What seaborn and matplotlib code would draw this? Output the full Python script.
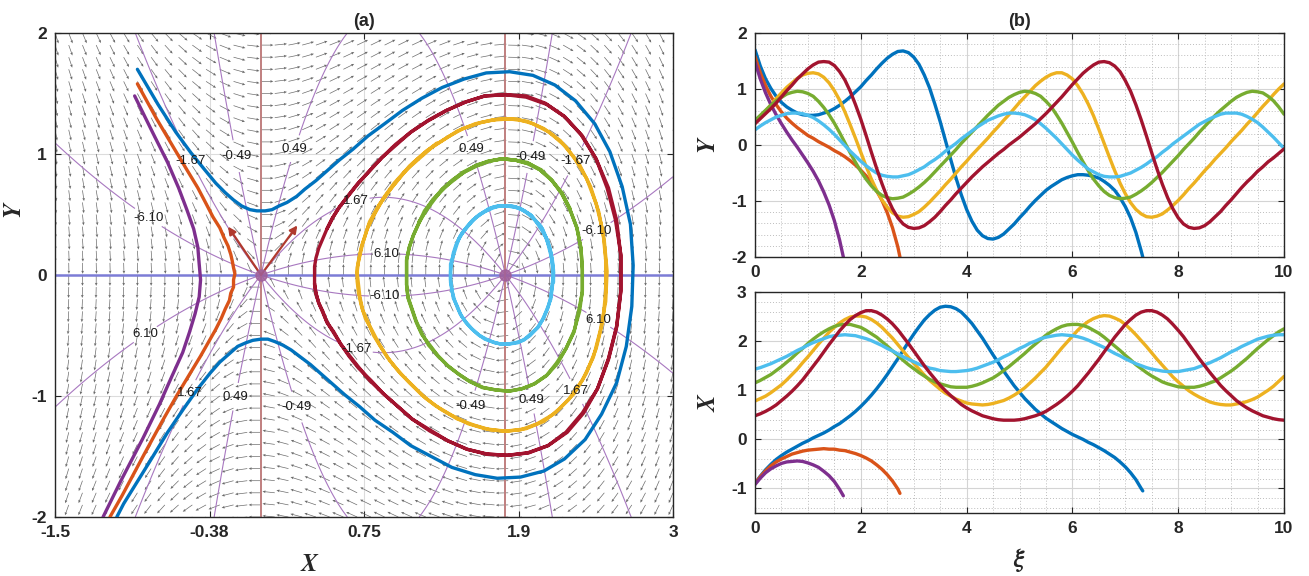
import numpy as np
import matplotlib
matplotlib.use('Agg')
import matplotlib.pyplot as plt
from matplotlib.ticker import MultipleLocator
import seaborn as sns

# ---------------- data (in hundredths) ----------------
XI = np.linspace(0, 10, 101)          # xi grid of panel (b), step 0.1

X_CYAN = [143, 146, 150, 154, 159, 164, 169, 175, 181, 186, 192, 197, 201, 205, 209, 211, 212, 213, 212, 211, 208, 205, 201, 196, 191, 185, 180, 174,
          168, 163, 158, 153, 149, 145, 143, 140, 139, 138, 138, 139, 140, 142, 145, 149, 153, 157, 162, 168, 173, 179, 185, 190, 196, 200, 205, 208,
          210, 212, 213, 212, 211, 209, 206, 202, 197, 192, 187, 181, 175, 170, 164, 159, 154, 150, 146, 143, 141, 139, 138, 138, 138, 140, 142, 144,
          148, 152, 156, 161, 166, 172, 178, 183, 189, 194, 199, 204, 207, 210, 212, 213, 213]
Y_CYAN = [27, 34, 40, 45, 50, 53, 56, 57, 57, 56, 53, 49, 43, 36, 28, 19, 9, -1, -11, -20, -29, -37, -44, -50, -54, -56, -57, -57,
          -55, -53, -49, -44, -39, -32, -26, -19, -11, -4, 3, 11, 18, 25, 32, 38, 44, 48, 52, 55, 57, 57, 56, 54, 50, 45, 38, 30,
          21, 12, 2, -8, -18, -27, -35, -43, -48, -53, -56, -57, -57, -56, -53, -50, -45, -40, -34, -27, -21, -13, -6, 2, 9, 16, 23, 30,
          37, 42, 47, 51, 55, 57, 57, 57, 55, 51, 46, 40, 32, 23, 14, 4, -6]

X_GREEN = [115, 120, 126, 132, 140, 148, 157, 166, 176, 185, 195, 204, 212, 219, 225, 230, 233, 234, 234, 231, 228, 222, 215, 208, 199, 190, 180, 171,
           161, 152, 144, 136, 129, 122, 117, 113, 110, 107, 106, 106, 106, 108, 111, 115, 120, 125, 132, 140, 148, 157, 166, 175, 185, 194, 203, 212,
           219, 225, 230, 233, 234, 234, 232, 228, 222, 216, 208, 199, 190, 181, 171, 162, 152, 144, 136, 129, 123, 117, 113, 110, 107, 106, 106, 106,
           108, 111, 115, 119, 125, 132, 139, 147, 156, 165, 175, 185, 194, 203, 211, 219, 225]
Y_GREEN = [44, 53, 62, 71, 79, 85, 91, 94, 96, 95, 92, 87, 78, 67, 54, 39, 22, 4, -14, -31, -47, -61, -73, -83, -90, -94, -96, -95,
           -93, -88, -82, -75, -67, -58, -48, -38, -28, -18, -8, 3, 13, 23, 33, 43, 53, 62, 71, 78, 85, 90, 94, 96, 95, 92, 87, 78,
           68, 54, 39, 22, 5, -13, -30, -46, -61, -73, -83, -90, -94, -96, -95, -93, -88, -82, -75, -67, -58, -49, -39, -29, -19, -8, 2, 12,
           23, 33, 43, 53, 62, 70, 78, 85, 90, 94, 96, 95, 93, 87, 79, 68, 55]

X_YELLOW = [78, 83, 88, 95, 103, 111, 121, 132, 143, 156, 168, 181, 194, 206, 218, 228, 237, 244, 249, 251, 251, 249, 244, 237, 228, 217, 206, 193,
            180, 167, 155, 143, 131, 120, 111, 102, 94, 88, 82, 78, 74, 72, 71, 70, 71, 73, 76, 79, 84, 90, 97, 105, 115, 125, 136, 147,
            160, 173, 186, 198, 210, 222, 232, 240, 246, 250, 252, 251, 247, 242, 234, 224, 213, 201, 189, 176, 163, 151, 139, 127, 117, 108, 99, 92,
            86, 81, 76, 73, 71, 70, 70, 72, 74, 77, 81, 86, 93, 100, 108, 118, 128]
Y_YELLOW = [40, 51, 61, 72, 83, 93, 103, 111, 119, 125, 128, 129, 127, 121, 111, 97, 80, 59, 36, 12, -13, -38, -61, -81, -98, -111, -121, -127,
            -129, -128, -124, -119, -111, -102, -92, -82, -71, -61, -50, -39, -29, -18, -8, 2, 12, 23, 33, 44, 54, 65, 76, 86, 96, 106, 114, 121,
            126, 129, 129, 125, 118, 106, 91, 73, 52, 28, 3, -22, -46, -68, -87, -103, -115, -123, -128, -129, -127, -123, -116, -108, -99, -89, -78, -68,
            -57, -46, -36, -25, -15, -5, 6, 16, 26, 37, 47, 58, 69, 79, 90, 100, 109]

X_RED = [48, 52, 57, 63, 70, 79, 88, 98, 109, 121, 135, 149, 163, 178, 193, 207, 221, 233, 244, 252, 258, 262, 262, 259, 253, 245, 235, 223,
         209, 195, 180, 165, 150, 136, 123, 110, 99, 89, 80, 71, 64, 58, 53, 48, 45, 42, 40, 39, 39, 39, 40, 42, 45, 48, 52, 57,
         64, 71, 79, 88, 98, 109, 122, 135, 149, 163, 178, 193, 208, 221, 234, 244, 253, 259, 262, 262, 259, 253, 245, 234, 222, 209, 194, 179,
         164, 150, 136, 123, 110, 99, 89, 79, 71, 64, 58, 53, 48, 45, 42, 40, 39]
Y_RED = [38, 47, 56, 65, 75, 86, 97, 107, 118, 127, 136, 143, 148, 149, 148, 142, 131, 116, 96, 72, 46, 17, -13, -42, -69, -94, -114, -130,
         -141, -147, -149, -148, -144, -137, -129, -119, -108, -98, -87, -77, -67, -57, -48, -39, -31, -23, -15, -8, 0, 7, 14, 22, 30, 38, 47, 56,
         66, 76, 86, 97, 108, 118, 128, 136, 143, 148, 149, 147, 141, 131, 115, 96, 72, 45, 16, -14, -43, -70, -94, -114, -130, -141, -147, -149,
         -148, -144, -137, -128, -119, -108, -98, -87, -76, -66, -57, -47, -39, -30, -23, -15, -7]

# open orbits: sampled every 0.1 in xi, plus the point where they leave through Y = -2
X_BLUE = [-90, -75, -62, -51, -41, -33, -26, -20, -14, -8, -3, 3, 8, 13, 19, 26, 32, 40, 48, 57, 67, 78, 90, 103, 117, 132, 148, 164,
          181, 198, 214, 229, 243, 254, 263, 269, 271, 270, 266, 259, 248, 236, 221, 206, 189, 172, 156, 139, 124, 109, 96, 83, 72, 61, 52, 43,
          36, 29, 22, 16, 10, 5, 0, -6, -11, -17, -23, -30, -37, -46, -56, -68, -82, -100, -105]
Y_BLUE = [170, 141, 118, 101, 87, 76, 68, 62, 57, 54, 53, 53, 54, 57, 60, 65, 71, 78, 86, 95, 104, 115, 125, 136, 146, 155, 162, 167,
          168, 165, 157, 144, 125, 102, 73, 42, 8, -26, -59, -89, -115, -136, -152, -162, -167, -168, -165, -159, -150, -141, -130, -120, -109, -99, -90, -81,
          -74, -68, -62, -58, -55, -53, -53, -54, -56, -59, -65, -72, -81, -94, -110, -130, -156, -189, -200]
XI_BLUE_END = 7.33

X_ORANGE = [-90, -76, -64, -54, -46, -40, -35, -30, -27, -24, -22, -21, -20, -19, -20, -20, -22, -23, -26, -29, -33, -38, -44, -52, -61, -72, -85, -101, -110]
Y_ORANGE = [158, 129, 106, 87, 72, 59, 48, 39, 31, 24, 17, 12, 6, 1, -4, -10, -15, -21, -28, -36, -45, -55, -67, -82, -99, -121, -148, -182, -200]
XI_ORANGE_END = 2.74

X_PURPLE = [-92, -79, -68, -60, -54, -49, -46, -45, -44, -45, -48, -52, -57, -65, -74, -86, -102, -115]
Y_PURPLE = [148, 118, 93, 72, 54, 38, 23, 9, -4, -18, -32, -47, -64, -84, -107, -135, -170, -200]
XI_PURPLE_END = 1.67

# slope field dY/dX = F(X)/Y with F(X) = ALPHA*X*(1 - X/X_CENTER)
ALPHA = 2.41
X_SADDLE = 0.0
X_CENTER = 1.78
ISO_LEVELS = [-6.10, -1.67, -0.49, 0.49, 1.67, 6.10]

X_TICKS = [-1.5, -0.375, 0.75, 1.875, 3.0]
X_TICKLABELS = ['-1.5', '-0.38', '0.75', '1.9', '3']

# ---------------- style ----------------
sns.set_style('ticks')
plt.rcParams.update({
    'font.family': ['Liberation Sans', 'DejaVu Sans'],
    'font.weight': 'bold',
    'mathtext.fontset': 'stix',
    'axes.unicode_minus': False,
    'axes.edgecolor': '#262626',
    'axes.linewidth': 1.0,
    'xtick.direction': 'in', 'ytick.direction': 'in',
    'xtick.top': True, 'ytick.right': True,
    'xtick.major.size': 4, 'ytick.major.size': 4,
    'xtick.major.width': 0.8, 'ytick.major.width': 0.8,
    'xtick.minor.size': 0, 'ytick.minor.size': 0,
    'xtick.color': '#262626', 'ytick.color': '#262626',
    'xtick.labelsize': 12.5, 'ytick.labelsize': 12.5,
})

C_BLUE, C_ORANGE, C_YELLOW = '#0072BD', '#D95319', '#EDB120'
C_PURPLE, C_GREEN, C_CYAN, C_RED = '#7E2F8E', '#77AC30', '#4DBEEE', '#A2142F'
LW = 2.4

def h(v):
    return np.asarray(v, dtype=float) / 100.0

series = [
    (np.append(XI[:len(X_BLUE) - 1], XI_BLUE_END), h(X_BLUE), h(Y_BLUE), C_BLUE),
    (np.append(XI[:len(X_ORANGE) - 1], XI_ORANGE_END), h(X_ORANGE), h(Y_ORANGE), C_ORANGE),
    (XI, h(X_YELLOW), h(Y_YELLOW), C_YELLOW),
    (np.append(XI[:len(X_PURPLE) - 1], XI_PURPLE_END), h(X_PURPLE), h(Y_PURPLE), C_PURPLE),
    (XI, h(X_GREEN), h(Y_GREEN), C_GREEN),
    (XI, h(X_CYAN), h(Y_CYAN), C_CYAN),
    (XI, h(X_RED), h(Y_RED), C_RED),
]

fig = plt.figure(figsize=(13.09, 5.76), dpi=100)
W, H = 1309.0, 576.0
ax1 = fig.add_axes([55 / W, (H - 517) / H, 618 / W, 484 / H])
ax2 = fig.add_axes([755 / W, (H - 257) / H, 529 / W, 224 / H])
ax3 = fig.add_axes([755 / W, (H - 513) / H, 529 / W, 221 / H])

# ---------------- (a) phase plane ----------------
def F(x):
    return ALPHA * x * (1 - x / X_CENTER)

ax1.set_xlim(-1.5, 3)
ax1.set_ylim(-2, 2)
ax1.grid(True, color='#dcdcdc', lw=0.8, zorder=0)
ax1.set_axisbelow(True)

qx, qy = np.meshgrid(np.linspace(-1.5, 3, 46), np.linspace(-2, 2, 41))
U, V = qy, F(qx)
N = np.hypot(U, V)
N[N == 0] = 1
L = 0.09
ax1.quiver(qx, qy, L * U / N, L * V / N, angles='xy', scale_units='xy', scale=1,
           color='#6a6a6a', width=0.0011, headwidth=4, headlength=4.5, headaxislength=4, zorder=1)

gx, gy = np.meshgrid(np.linspace(-1.5, 3, 700), np.linspace(-2, 2, 700))

def px2d(px, py):
    return ((px - 55) / (618 / 4.5) - 1.5, (275 - py) / 121.0)

LABEL_PIX = {
    -6.10: [(148, 218), (598, 233), (385, 298)],
    6.10: [(386, 258), (597, 322), (147, 337)],
    -1.67: [(192, 160), (575, 161), (355, 356)],
    1.67: [(355, 198), (190, 393), (573, 393)],
    -0.49: [(237, 156), (530, 157), (300, 406), (473, 407)],
    0.49: [(296, 149), (473, 149), (237, 397), (530, 400)],
}
for k in ISO_LEVELS:
    cs = ax1.contour(gx, gy, F(gx) - k * gy, levels=[0.0], colors='#a878c0', linewidths=0.8, zorder=2)
    txts = ax1.clabel(cs, fmt={0.0: f'{k:.2f}'}, manual=[px2d(*p) for p in LABEL_PIX[k]],
                      inline=True, inline_spacing=1, fontsize=9.5, colors='#1a1a1a')
    for tx in txts:
        tx.set_fontweight('normal')
        tx.set_rotation(0)

ax1.axhline(0, color='#7c7cd6', lw=1.8, zorder=2.5)
for xv in (X_SADDLE, X_CENTER):
    ax1.axvline(xv, color='#c07f7f', lw=1.4, zorder=2.5)

for t, xs, ys, col in series:
    sns.lineplot(x=xs, y=ys, sort=False, estimator=None, color=col, lw=LW, ax=ax1, zorder=3)

for tip in [(0.265, 0.41), (-0.24, 0.40)]:
    ax1.annotate('', xy=tip, xytext=(X_SADDLE, 0), zorder=4,
                 arrowprops=dict(arrowstyle='-|>', color='#b03a2e', lw=1.6, mutation_scale=11,
                                 shrinkA=0, shrinkB=0))
ax1.plot([X_SADDLE, X_CENTER], [0, 0], 'o', ms=8, color='#a0609a', alpha=0.85, zorder=4)

ax1.set_xticks(X_TICKS)
ax1.set_xticklabels(X_TICKLABELS)
ax1.set_yticks([-2, -1, 0, 1, 2])
ax1.set_yticklabels(['-2', '-1', '0', '1', '2'])
ax1.tick_params(pad=6)
ax1.set_title('(a)', fontsize=13, fontweight='bold', pad=5)
ax1.set_xlabel('$X$', fontsize=18, fontweight='normal')
ax1.set_ylabel('$Y$', fontsize=18, fontweight='normal')
ax1.xaxis.set_label_coords(0.413, -0.072)
ax1.yaxis.set_label_coords(-0.047, 0.634)

# ---------------- (b) time series ----------------
for ax in (ax2, ax3):
    ax.set_xlim(0, 10)
    ax.xaxis.set_major_locator(MultipleLocator(2))
    ax.xaxis.set_minor_locator(MultipleLocator(0.5))
    ax.yaxis.set_minor_locator(MultipleLocator(0.2))
    ax.grid(True, which='major', color='#d4d4d4', lw=0.8)
    ax.grid(True, which='minor', color='#bdbdbd', lw=0.7, ls=(0, (1, 2)))
    ax.set_axisbelow(True)
    ax.tick_params(pad=6)

for t, xs, ys, col in series:
    sns.lineplot(x=t, y=ys, color=col, lw=LW, ax=ax2)
    sns.lineplot(x=t, y=xs, color=col, lw=LW, ax=ax3)

ax2.set_ylim(-2, 2)
ax2.set_yticks([-2, -1, 0, 1, 2])
ax2.set_yticklabels(['-2', '-1', '0', '1', '2'])
ax3.set_ylim(-1.5, 3)
ax3.set_yticks([-1, 0, 1, 2, 3])
ax3.set_yticklabels(['-1', '0', '1', '2', '3'])
for ax in (ax2, ax3):
    ax.set_xticks([0, 2, 4, 6, 8, 10])
    ax.set_xticklabels(['0', '2', '4', '6', '8', '10'])

ax2.set_title('(b)', fontsize=13, fontweight='bold', pad=5)
ax2.set_ylabel('$Y$', fontsize=18, fontweight='normal')
ax3.set_ylabel('$X$', fontsize=18, fontweight='normal')
ax3.set_xlabel(r'$\xi$', fontsize=18, fontweight='normal')
ax2.yaxis.set_label_coords(-0.066, 0.5)
ax3.yaxis.set_label_coords(-0.066, 0.5)
ax3.xaxis.set_label_coords(0.5, -0.15)

fig.savefig('out.png', dpi=100)
